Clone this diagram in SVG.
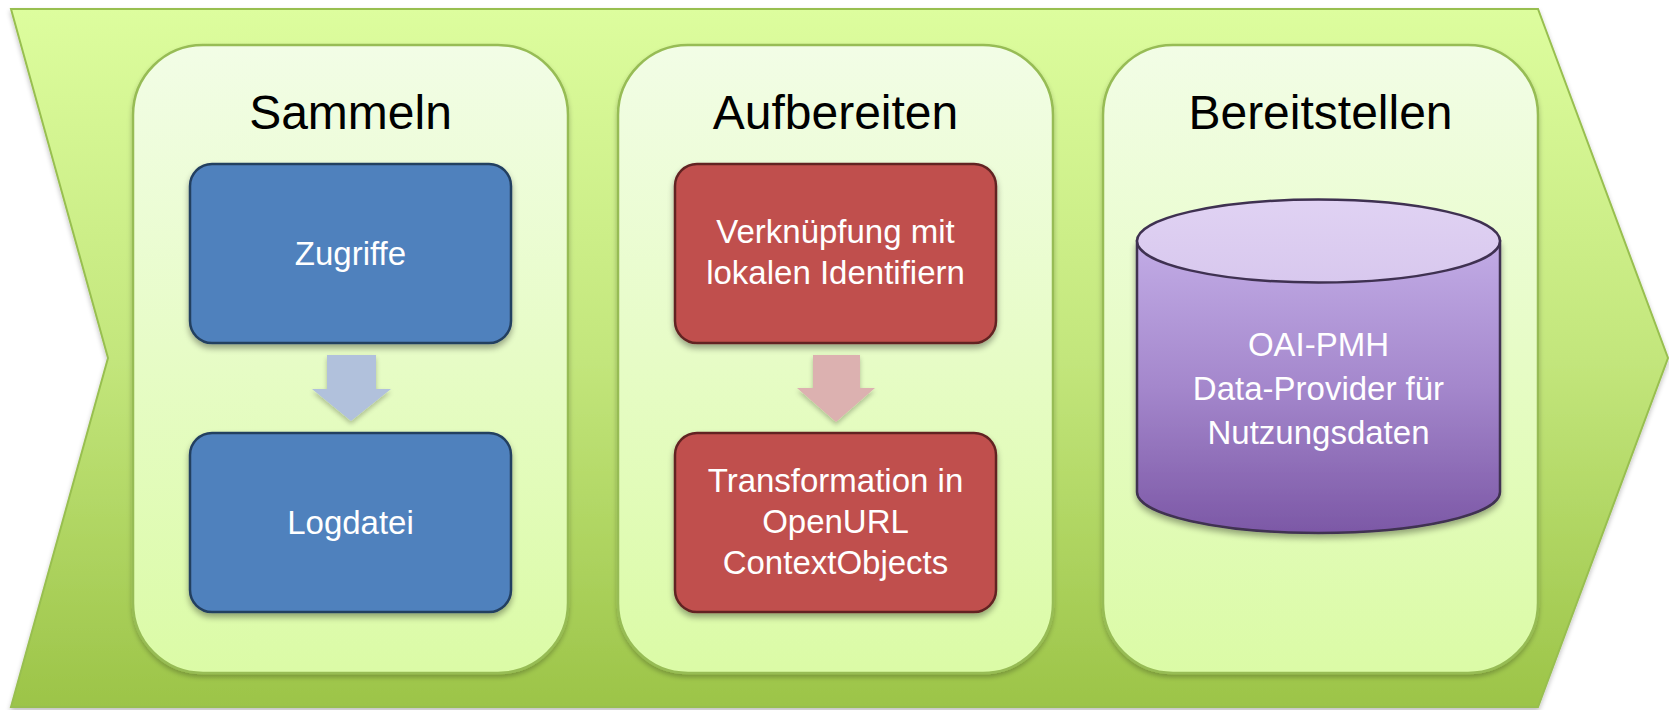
<svg xmlns="http://www.w3.org/2000/svg" width="1669" height="710" viewBox="0 0 1669 710">
  <defs>
    <linearGradient id="gChev" x1="0" y1="0" x2="0" y2="1">
      <stop offset="0" stop-color="#ddfd9e"/>
      <stop offset="0.5" stop-color="#c3e67c"/>
      <stop offset="1" stop-color="#9cc448"/>
    </linearGradient>
    <linearGradient id="gPanel" x1="0" y1="0" x2="0" y2="1">
      <stop offset="0" stop-color="#f2fde6"/>
      <stop offset="1" stop-color="#dbfba6"/>
    </linearGradient>
    <linearGradient id="gCylTop" x1="0" y1="0" x2="0" y2="1">
      <stop offset="0" stop-color="#e0d2f3"/>
      <stop offset="1" stop-color="#d8c8ee"/>
    </linearGradient>
    <linearGradient id="gCylBody" x1="0" y1="0" x2="0" y2="1">
      <stop offset="0" stop-color="#c2ace6"/>
      <stop offset="0.5" stop-color="#a487cc"/>
      <stop offset="1" stop-color="#7c58a6"/>
    </linearGradient>
    <filter id="shadow" x="-10%" y="-10%" width="120%" height="130%">
      <feGaussianBlur in="SourceAlpha" stdDeviation="3"/>
      <feOffset dx="0" dy="4" result="b"/>
      <feComponentTransfer><feFuncA type="linear" slope="0.35"/></feComponentTransfer>
      <feMerge><feMergeNode/><feMergeNode in="SourceGraphic"/></feMerge>
    </filter>
    <filter id="shadowSoft" x="-10%" y="-10%" width="120%" height="130%">
      <feGaussianBlur in="SourceAlpha" stdDeviation="2.5"/>
      <feOffset dx="0" dy="3" result="b"/>
      <feComponentTransfer><feFuncA type="linear" slope="0.25"/></feComponentTransfer>
      <feMerge><feMergeNode/><feMergeNode in="SourceGraphic"/></feMerge>
    </filter>
  </defs>
  <style>
    .panel { fill: url(#gPanel); stroke: #97bc55; stroke-width: 2.5; }
    .title { font-family: "Liberation Sans", Arial, sans-serif; font-size: 48px; fill: #000000; text-anchor: middle; }
    .lbl { font-family: "Liberation Sans", Arial, sans-serif; font-size: 33px; fill: #ffffff; text-anchor: middle; }
    .blue { fill: #4f81bd; stroke: #243f60; stroke-width: 2.5; }
    .red { fill: #c0504d; stroke: #622423; stroke-width: 2.5; }
    .arrowBlue { fill: #b1c1dc; }
    .arrowRed { fill: #dcb1b0; }
  </style>

  <g id="chevron">
    <path d="M11,9 L1538,9 L1668,358 L1538,707 L11,707 L108,358 Z" fill="url(#gChev)" stroke="#98bf50" stroke-width="2" filter="url(#shadowSoft)"/>
  </g>

  <g id="panel-sammeln">
    <rect class="panel" x="133" y="45" width="435" height="628" rx="70" ry="70" filter="url(#shadowSoft)"/>
    <text class="title" x="350.5" y="129">Sammeln</text>
  </g>
  <g id="panel-aufbereiten">
    <rect class="panel" x="618" y="45" width="435" height="628" rx="70" ry="70" filter="url(#shadowSoft)"/>
    <text class="title" x="835.5" y="129">Aufbereiten</text>
  </g>
  <g id="panel-bereitstellen">
    <rect class="panel" x="1103" y="45" width="435" height="628" rx="70" ry="70" filter="url(#shadowSoft)"/>
    <text class="title" x="1320.5" y="129">Bereitstellen</text>
  </g>

  <g id="node-zugriffe">
    <rect class="blue" x="190" y="164" width="321" height="179" rx="22" ry="22" filter="url(#shadow)"/>
    <text class="lbl" x="350.5" y="265">Zugriffe</text>
  </g>
  <g id="node-logdatei">
    <rect class="blue" x="190" y="433" width="321" height="179" rx="22" ry="22" filter="url(#shadow)"/>
    <text class="lbl" x="350.5" y="534">Logdatei</text>
  </g>
  <g id="node-verknuepfung">
    <rect class="red" x="675" y="164" width="321" height="179" rx="22" ry="22" filter="url(#shadow)"/>
    <text class="lbl" x="835.5" y="243">Verknüpfung mit</text>
    <text class="lbl" x="835.5" y="284">lokalen Identifiern</text>
  </g>
  <g id="node-transformation">
    <rect class="red" x="675" y="433" width="321" height="179" rx="22" ry="22" filter="url(#shadow)"/>
    <text class="lbl" x="835.5" y="492">Transformation in</text>
    <text class="lbl" x="835.5" y="533">OpenURL</text>
    <text class="lbl" x="835.5" y="574">ContextObjects</text>
  </g>
  <g id="node-oaipmh">
    <path d="M1137,241 L1137,492 A181.5,41 0 0 0 1500,492 L1500,241 Z" fill="url(#gCylBody)" stroke="#3f3151" stroke-width="2.5" filter="url(#shadow)"/>
    <ellipse cx="1318.5" cy="241" rx="181.5" ry="41.5" fill="url(#gCylTop)" stroke="#3f3151" stroke-width="2.5"/>
    <text class="lbl" x="1318.5" y="356">OAI-PMH</text>
    <text class="lbl" x="1318.5" y="400">Data-Provider für</text>
    <text class="lbl" x="1318.5" y="444">Nutzungsdaten</text>
  </g>

  <g id="connectors">
    <path class="arrowBlue" d="M327,355 L376,355 L376,389 L391,389 L351,421 L312,389 L327,389 Z" filter="url(#shadowSoft)"/>
    <path class="arrowRed" d="M813,355 L860,355 L860,388 L875,388 L836,422 L797,388 L813,388 Z" filter="url(#shadowSoft)"/>
  </g>
</svg>
